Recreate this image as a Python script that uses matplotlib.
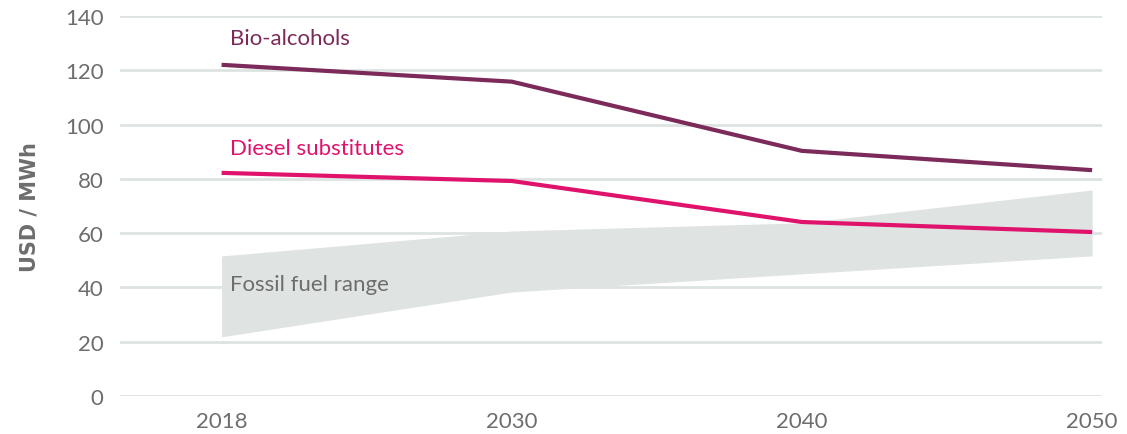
import matplotlib.pyplot as plt

years = ["2018", "2030", "2040", "2050"]
bio_alcohols = [122, 115.8, 90.3, 83.2]
diesel_subs = [82.2, 79.2, 64.1, 60.4]
fossil_low = [21.8, 38.3, 45.0, 51.6]
fossil_high = [51.6, 60.8, 63.8, 75.9]
yticks = [0, 20, 40, 60, 80, 100, 120, 140]

plt.rcParams['font.family'] = ['Lato', 'DejaVu Sans']

fig = plt.figure(figsize=(11.27, 4.35), dpi=100)
ax = fig.add_axes([0.1065, 0.0874, 0.8713, 0.8736])

x = list(range(len(years)))
grey_txt = "#6d6d6d"

for yv in yticks:
    ax.axhline(yv, color="#dde3e1", lw=2, zorder=0)

ax.fill_between(x, fossil_low, fossil_high, color="#dfe4e2", lw=0, zorder=1)
ax.plot(x, bio_alcohols, color="#7b2a5a", lw=3, zorder=3, solid_capstyle="butt")
ax.plot(x, diesel_subs, color="#e0136c", lw=3, zorder=3, solid_capstyle="butt")

ax.text(0.028, 131.8, "Bio-alcohols", color="#7b2a5a", fontsize=16, va="center")
ax.text(0.028, 91.2, "Diesel substitutes", color="#e0136c", fontsize=16, va="center")
ax.text(0.028, 41.3, "Fossil fuel range", color=grey_txt, fontsize=16, va="center")

ax.set_xlim(-0.35, 3.034)
ax.set_ylim(0, 140)
ax.set_xticks(x)
ax.set_xticklabels(years)
ax.set_yticks(yticks)
ax.tick_params(length=0, labelsize=16, labelcolor=grey_txt)
ax.tick_params(axis="y", pad=12)
ax.tick_params(axis="x", pad=11)
for s in ax.spines.values():
    s.set_visible(False)

ax.set_ylabel("USD / MWh", fontsize=15, fontweight="heavy", color=grey_txt,
              labelpad=18, family="DejaVu Sans")

fig.savefig("out.png", dpi=100)
